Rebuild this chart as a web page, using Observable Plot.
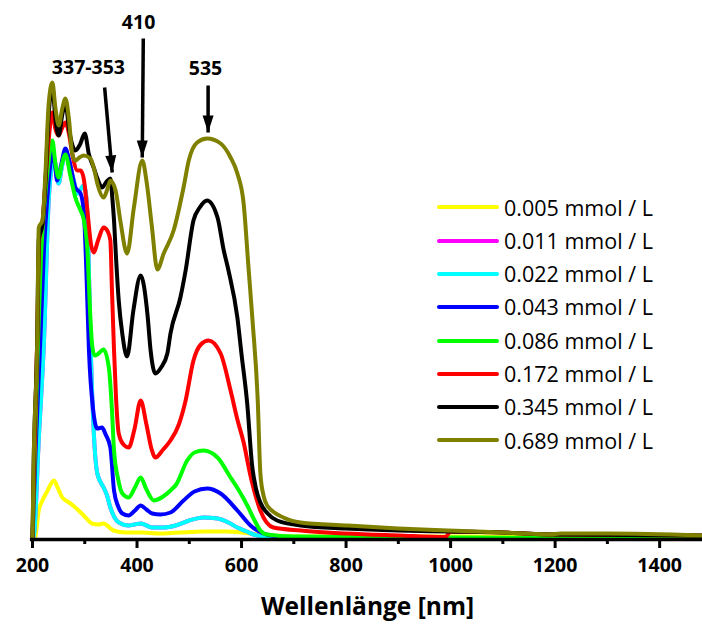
<!DOCTYPE html>
<html><head><meta charset="utf-8">
<script src="https://cdn.jsdelivr.net/npm/d3@7"></script>
<script src="https://cdn.jsdelivr.net/npm/@observablehq/plot@0.6"></script>
<style>
body{margin:0;background:#fff;}
#wrap{position:relative;width:702px;height:631px;font-family:"Open Sans",sans-serif;}
#legend{position:absolute;left:437px;top:190.7px;}
.row{display:flex;align-items:center;height:33.3px;}
.sw{width:62px;height:4px;margin-right:5px;border-radius:2px;}
.lab{font-size:21.5px;color:#000;line-height:1;white-space:nowrap;}
svg text{font-weight:bold;}
</style></head><body><div id="wrap"></div>
<script>
// Wavelength axis ticks (nm)
const majorTicks = [200, 400, 600, 800, 1000, 1200, 1400];
const minorTicks = [300, 500, 700, 900, 1100, 1300];

// Series labels and colours
const seriesNames = ["0.005 mmol / L","0.011 mmol / L","0.022 mmol / L","0.043 mmol / L","0.086 mmol / L","0.172 mmol / L","0.345 mmol / L","0.689 mmol / L"];
const seriesColors = ["#ffff00","#ff00ff","#00ffff","#0000ff","#00ff00","#ff0000","#000000","#808000"];

// [wavelength nm, absorbance]
const yellow005 = [[200,0],[205,0.02],[212,0.29],[219,0.39],[228,0.48],[241,0.59],[248,0.52],[257,0.42],[270,0.37],[282,0.32],[298,0.24],[314,0.16],[326,0.15],[336,0.16],[345,0.13],[355,0.09],[378,0.07],[410,0.07],[441,0.06],[480,0.07],[530,0.08],[570,0.08],[600,0.07],[630,0.05],[660,0.04],[700,0.03],[800,0.03],[1000,0.03],[1200,0.03],[1482,0.025]];
const magenta011 = [[200,0],[203,0.05],[212,1.0],[222,1.99],[231,3.39],[236,3.7],[241,3.82],[246,3.68],[250,3.56],[256,3.72],[263,3.87],[270,3.78],[279,3.59],[286,3.46],[292,3.5],[298,3.54],[303,3.42],[306,3.1],[311,1.99],[317,1.1],[324,0.66],[336,0.52],[342,0.45],[349,0.32],[357,0.22],[365,0.17],[384,0.14],[395,0.15],[407,0.16],[418,0.14],[429,0.12],[450,0.12],[474,0.14],[500,0.19],[527,0.22],[554,0.21],[575,0.17],[592,0.12],[610,0.08],[623,0.05],[640,0.03],[656,0.02],[700,0.01],[1000,0.01],[1482,0.01]];
const cyan022 = [[200,0],[203,0.05],[212,1.0],[222,1.99],[231,3.39],[236,3.7],[241,3.82],[246,3.68],[250,3.56],[256,3.72],[263,3.87],[270,3.78],[279,3.59],[286,3.46],[292,3.5],[298,3.54],[303,3.42],[306,3.1],[311,1.99],[317,1.1],[324,0.66],[336,0.52],[342,0.45],[349,0.32],[357,0.22],[365,0.17],[384,0.14],[395,0.15],[407,0.16],[418,0.14],[429,0.12],[450,0.12],[474,0.14],[500,0.19],[527,0.22],[554,0.21],[575,0.17],[592,0.12],[610,0.08],[623,0.05],[640,0.03],[656,0.02],[700,0.01],[1000,0.01],[1482,0.01]];
const blue043 = [[200,0],[206,0.9],[215,2.0],[222,2.9],[228,3.39],[233,3.7],[238,3.87],[243,3.75],[247,3.59],[255,3.75],[263,3.91],[270,3.8],[282,3.52],[292,3.46],[298,3.29],[303,2.7],[308,1.89],[316,1.3],[324,1.11],[333,1.12],[340,1.05],[349,0.92],[356,0.49],[364,0.33],[372,0.26],[384,0.24],[396,0.29],[407,0.34],[418,0.3],[429,0.26],[445,0.25],[464,0.27],[489,0.39],[510,0.48],[534,0.51],[560,0.46],[592,0.29],[617,0.14],[642,0.06],[656,0.04],[700,0.02],[1000,0.015],[1200,0.015],[1260,0.01],[1482,0.01]];
const green086 = [[200,0],[204,0.8],[210,1.9],[216,2.8],[222,3.3],[229,3.7],[238,3.99],[244,3.75],[250,3.62],[256,3.75],[263,3.85],[272,3.65],[282,3.42],[292,3.29],[298,3.2],[305,2.9],[310,2.3],[314,1.95],[319,1.84],[324,1.85],[336,1.9],[346,1.72],[352,1.3],[356,0.89],[364,0.6],[372,0.46],[384,0.42],[396,0.52],[407,0.62],[418,0.5],[432,0.39],[450,0.43],[464,0.49],[475,0.55],[496,0.79],[510,0.87],[527,0.89],[554,0.82],[579,0.62],[595,0.49],[611,0.34],[625,0.19],[636,0.09],[649,0.05],[700,0.03],[1000,0.02],[1482,0.015]];
const red172 = [[200,0],[203,0.7],[209,2.0],[213,3.0],[219,3.16],[225,3.6],[231,4.0],[238,4.27],[244,4.1],[250,4.04],[257,4.12],[263,4.17],[270,4.05],[276,3.86],[286,3.69],[292,3.69],[298,3.61],[305,3.29],[312,2.95],[317,2.87],[326,3.0],[336,3.12],[344,3.08],[349,2.99],[352,2.5],[356,1.89],[360,1.4],[365,1.06],[374,0.95],[384,0.92],[395,1.1],[407,1.39],[418,1.15],[428,0.9],[435,0.82],[450,0.9],[464,0.99],[480,1.15],[493,1.39],[508,1.79],[522,1.95],[537,1.99],[560,1.86],[579,1.49],[592,1.2],[604,0.97],[617,0.64],[636,0.29],[661,0.12],[713,0.09],[800,0.06],[900,0.04],[990,0.025],[1000,0.08],[1100,0.07],[1200,0.05],[1482,0.04]];
const black345 = [[200,0],[202,0.7],[209,2.0],[212,3.0],[219,3.15],[225,3.6],[231,4.25],[238,4.52],[244,4.2],[250,4.04],[257,4.25],[263,4.37],[270,4.1],[282,3.89],[291,3.95],[300,4.06],[308,3.85],[317,3.72],[325,3.6],[333,3.52],[342,3.58],[349,3.61],[353,3.4],[356,3.19],[360,2.8],[365,2.39],[372,2.05],[381,1.83],[393,2.29],[407,2.64],[420,2.25],[426,1.89],[435,1.66],[446,1.72],[458,1.86],[464,2.06],[483,2.42],[493,2.69],[508,3.19],[520,3.32],[534,3.39],[554,3.22],[566,2.89],[575,2.69],[592,2.22],[600,1.85],[611,1.35],[620,0.75],[628,0.5],[636,0.37],[650,0.26],[668,0.19],[713,0.14],[800,0.11],[900,0.09],[995,0.08],[1100,0.07],[1200,0.05],[1482,0.04]];
const olive689 = [[200,0],[202,0.72],[209,1.99],[212,3.12],[219,3.19],[225,3.69],[231,4.36],[238,4.57],[244,4.31],[250,4.14],[257,4.31],[263,4.41],[270,4.19],[276,3.86],[282,3.79],[290,3.82],[298,3.84],[311,3.81],[318,3.7],[324,3.56],[336,3.42],[343,3.5],[349,3.59],[359,3.49],[368,3.19],[381,2.86],[394,3.32],[410,3.79],[419,3.55],[428,3.15],[439,2.7],[451,2.86],[470,3.09],[489,3.52],[499,3.79],[515,3.97],[534,4.01],[560,3.96],[579,3.82],[592,3.66],[604,3.36],[613,2.74],[621,2.19],[631,1.39],[636,0.66],[642,0.44],[649,0.34],[680,0.22],[713,0.17],[800,0.14],[900,0.11],[995,0.09],[1100,0.07],[1190,0.05],[1210,0.06],[1300,0.06],[1482,0.04]];

// Peak annotations
const annoLabels = ["337-353", "410", "535"];
const annoLabelNm = [307, 403, 531];
const annoLabelAbs = [4.72, 5.17, 4.71];
const arrowFromNm = [338, 412, 536];
const arrowFromAbs = [4.52, 5.01, 4.54];
const arrowToNm = [352.5, 410, 536];
const arrowToAbs = [3.67, 3.82, 4.07];
const arrowTilt = [-5, 0, 0];

const seriesData = [yellow005, magenta011, cyan022, blue043, green086, red172, black345, olive689];
const table = seriesData.flatMap((s, i) => s.map(([nm, abs]) => ({nm, abs, series: seriesNames[i]})));
const annos = annoLabels.map((label, i) => ({label, nm: annoLabelNm[i], abs: annoLabelAbs[i],
  x1: arrowFromNm[i], y1: arrowFromAbs[i], x2: arrowToNm[i], y2: arrowToAbs[i], rot: 180 + arrowTilt[i]}));

const chart = Plot.plot({
  width: 702, height: 631,
  marginLeft: 32, marginRight: 0, marginTop: 39, marginBottom: 92,
  style: {fontFamily: "'Open Sans', sans-serif", background: "white", overflow: "visible", color: "black"},
  x: {domain: [200, 1482]},
  y: {domain: [0, 5], axis: null},
  color: {domain: seriesNames, range: seriesColors},
  marks: [
    Plot.line(table, {x: "nm", y: "abs", z: "series", stroke: "series", strokeWidth: 4, curve: "monotone-x", strokeLinejoin: "round"}),
    Plot.ruleY([0], {strokeWidth: 3.5, x1: 196, x2: 1482}),
    Plot.axisX({ticks: minorTicks, tickSize: 5, tickFormat: () => "", strokeWidth: 3, label: null}),
    Plot.axisX({ticks: majorTicks, tickSize: 9, tickPadding: 10, fontSize: 19.5, fontWeight: "bold", strokeWidth: 3, label: null, tickFormat: d => String(d)}),
    Plot.text(["Wellenlänge [nm]"], {frameAnchor: "bottom", dy: 75, fontSize: 24.5, fontWeight: "bold"}),
    Plot.link(annos, {x1: "x1", y1: "y1", x2: "x2", y2: "y2", stroke: "black", strokeWidth: 3.5}),
    Plot.vector(annos, {x: "x2", y: "y2", shape: "spike", r: 5.5, length: 17, anchor: "end", rotate: "rot", fill: "black", stroke: "none"}),
    Plot.text(annos, {x: "nm", y: "abs", text: "label", fontSize: 19.5, fontWeight: "bold"})
  ]
});
const wrap = document.getElementById("wrap");
wrap.appendChild(chart);

const legend = document.createElement("div");
legend.id = "legend";
seriesNames.forEach((name, i) => {
  const row = document.createElement("div");
  row.className = "row";
  const sw = document.createElement("div");
  sw.className = "sw";
  sw.style.background = seriesColors[i];
  const lab = document.createElement("span");
  lab.className = "lab";
  lab.textContent = name;
  row.appendChild(sw); row.appendChild(lab);
  legend.appendChild(row);
});
wrap.appendChild(legend);
</script></body></html>
